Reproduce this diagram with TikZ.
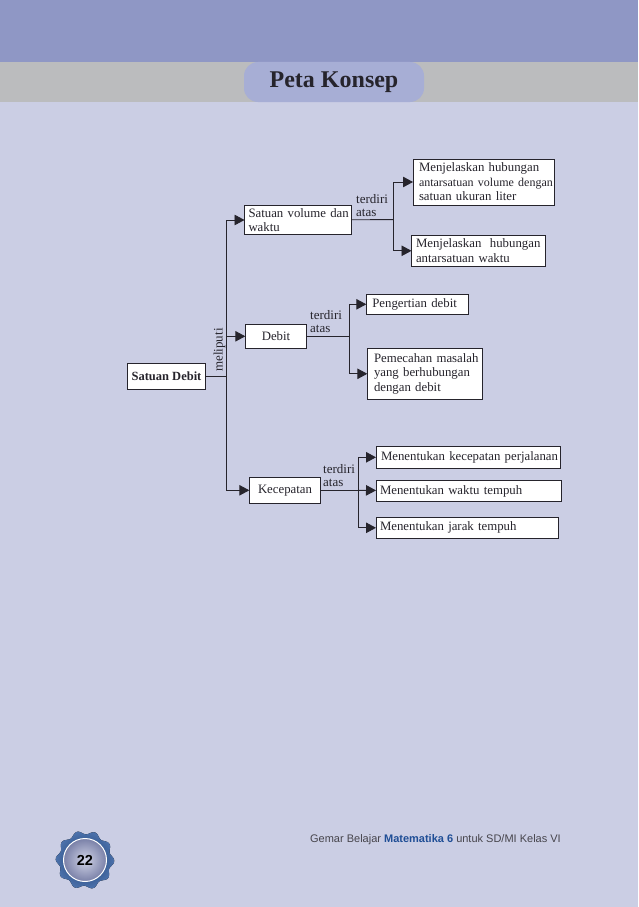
\documentclass[tikz,border=0pt]{standalone}
\usepackage{fontspec}
\setmainfont{Liberation Serif}
\setsansfont{Liberation Sans}
\usetikzlibrary{positioning,arrows.meta,calc}
\definecolor{pagebg}{HTML}{CBCEE4}
\definecolor{topband}{HTML}{8F97C5}
\definecolor{greyband}{HTML}{BBBCBE}
\definecolor{titlepill}{HTML}{A7AED5}
\definecolor{inkdark}{HTML}{26242C}
\definecolor{footblue}{HTML}{1F4E96}
\tikzset{
  conceptbox/.style={draw=inkdark, fill=white, line width=0.9pt, outer sep=0pt, inner ysep=0pt, inner xsep=4pt, align=left, text=inkdark, font=\fontsize{12.8}{14.5}\selectfont},
  linklabel/.style={inner sep=0pt, align=left, text=inkdark, font=\fontsize{13}{13.5}\selectfont},
  branchline/.style={line width=0.9pt, color=inkdark},
  arrowline/.style={branchline, -{Triangle[length=10pt,width=10.5pt]}}
}
\begin{document}
\begin{tikzpicture}[x=1pt,y=1pt]
\useasboundingbox (0,0) rectangle (638,-907);
\fill[pagebg] (0,0) rectangle (638,-907);
\fill[topband] (0,0) rectangle (638,-62);
\fill[greyband] (0,-62) rectangle (638,-102);
\node[fill=titlepill, rounded corners=14pt, minimum width=180pt, minimum height=40pt, inner sep=0pt, text height=17pt, text depth=6pt, text=inkdark, font=\fontsize{24}{26}\selectfont\bfseries] (title) at (334,-82) {Peta Konsep};

\node[conceptbox, minimum width=78pt, minimum height=25.5pt, align=center, font=\fontsize{12.5}{14.5}\selectfont\bfseries] (root) at (166.5,-376.3) {Satuan Debit};
\node[conceptbox, text width=99pt, minimum height=29pt, right=39pt of root, yshift=156.3pt] (volume) {\mbox{Satuan volume dan}\\waktu};
\node[conceptbox, text width=129.5pt, inner xsep=6pt, minimum height=46pt, right=61.5pt of volume, yshift=38pt] (relasi1) {Menjelaskan hubungan\\\mbox{\fontsize{12}{14.5}\selectfont antarsatuan volume dengan}\\satuan ukuran liter};
\node[conceptbox, text width=125pt, inner xsep=4.5pt, minimum height=31pt, right=60pt of volume, yshift=-30.8pt] (relasi2) {\mbox{Menjelaskan \ hubungan}\\antarsatuan waktu};
\node[conceptbox, minimum width=61.4pt, minimum height=24pt, align=center, right=39.8pt of root, yshift=40pt] (debit) {Debit};
\node[conceptbox, text width=90.4pt, inner xsep=6pt, minimum height=20pt, right=59.6pt of debit, yshift=32pt] (pengertian) {Pengertian debit};
\node[conceptbox, text width=102pt, inner xsep=6.7pt, minimum height=51pt, right=60.6pt of debit, yshift=-37.5pt] (pemecahan) {\mbox{Pemecahan masalah}\\yang berhubungan\\dengan debit};
\node[conceptbox, minimum width=71.4pt, minimum height=26pt, align=center, right=43.8pt of root, yshift=-114pt] (kecepatan) {Kecepatan};
\node[conceptbox, text width=174.7pt, inner xsep=5pt, minimum height=22pt, right=55.3pt of kecepatan, yshift=33pt] (perjalanan) {\mbox{Menentukan kecepatan perjalanan}};
\node[conceptbox, text width=177.7pt, minimum height=21.4pt, right=55.3pt of kecepatan, yshift=-0.7pt] (waktu) {Menentukan waktu tempuh};
\node[conceptbox, text width=174.7pt, minimum height=21pt, right=55.3pt of kecepatan, yshift=-37.5pt] (jarak) {Menentukan jarak tempuh};

\coordinate (trunk) at (226.3,-376.3);
\coordinate (fork1) at (393.3,-219.6);
\coordinate (fork2) at (349.3,-336.3);
\coordinate (fork3) at (358.7,-490.3);
\draw[branchline] (root) -- (trunk);
\draw[arrowline] (trunk) |- (volume);
\draw[arrowline] (trunk) |- (debit);
\draw[arrowline] (trunk) |- (kecepatan);
\draw[branchline] (volume) -- (fork1);
\draw[arrowline] (fork1) |- (relasi1);
\draw[arrowline] (fork1) |- (relasi2);
\draw[branchline] (debit) -- (fork2);
\draw[arrowline] (fork2) |- (pengertian);
\draw[arrowline] (fork2) |- (pemecahan);
\draw[branchline] (kecepatan) -- (fork3);
\draw[arrowline] (fork3) |- (perjalanan);
\draw[arrowline] (fork3) -- (waktu);
\draw[arrowline] (fork3) |- (jarak);

\node[linklabel, rotate=90] (meliputi) at (219.5,-350) {meliputi};
\node[linklabel, above right=3pt and 4.5pt of volume.east] (terdiri1) {terdiri\\atas};
\node[linklabel, above right=3.3pt and 3.3pt of debit.east] (terdiri2) {terdiri\\atas};
\node[linklabel, above right=3.3pt and 2.3pt of kecepatan.east] (terdiri3) {terdiri\\atas};

\fill[shift={(85,-860)}, inner color=footblue!70!black, outer color=footblue!80] plot[domain=0:360, samples=180, smooth] (\x:{27.5+1.8*cos(10*\x+20)}) -- cycle;
\node[circle, draw=white, line width=1pt, minimum size=43pt, inner sep=0pt, inner color=pagebg!90!white, outer color=topband!85!black, text=black, font=\fontsize{14.5}{16}\sffamily\bfseries] (pagenum) at (85,-860) {22};
\node[inner sep=0pt, anchor=base east, text=inkdark!85, font=\fontsize{11}{13}\sffamily] (footer) at (561,-842) {Gemar Belajar \textcolor{footblue}{\bfseries Matematika 6} untuk SD/MI Kelas VI};
\end{tikzpicture}
\end{document}
